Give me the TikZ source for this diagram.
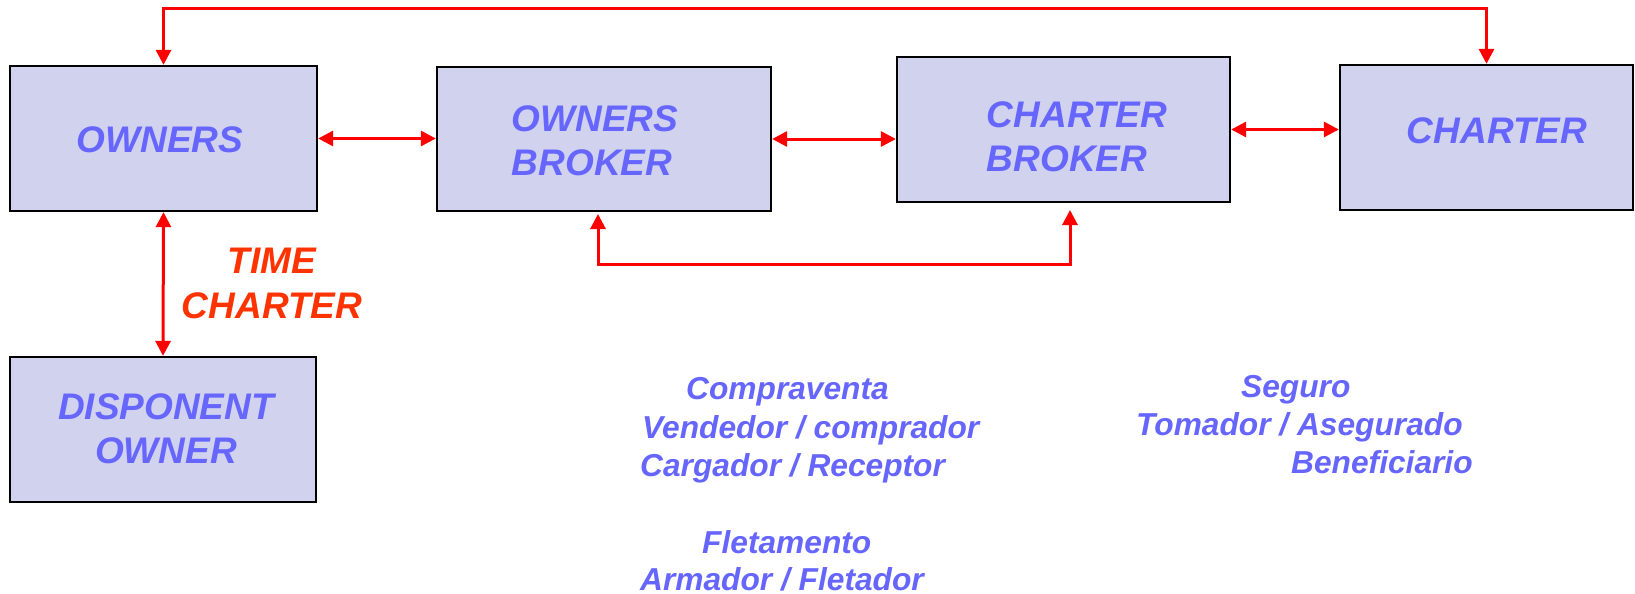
\documentclass[tikz,border=0pt]{standalone}
\usepackage{fontspec}
\setmainfont{Liberation Sans}
\usetikzlibrary{arrows.meta}
\definecolor{boxfill}{RGB}{208,210,238}
\definecolor{txtblue}{RGB}{102,102,255}
\definecolor{tcred}{RGB}{255,51,0}
\tikzset{
  box/.style={draw=black, line width=2.3pt, fill=boxfill, inner sep=0pt},
  boxtxt/.style={text=txtblue, inner sep=0pt, anchor=base, font=\fontsize{37}{44}\selectfont\bfseries\itshape},
  tctxt/.style={text=tcred, inner sep=0pt, anchor=base, font=\fontsize{37}{44}\selectfont\bfseries\itshape},
  lowtxt/.style={text=txtblue, inner sep=0pt, anchor=base west, font=\fontsize{31.7}{37}\selectfont\bfseries\itshape},
  link/.style={draw=red, line width=3pt, {Triangle[length=15pt,width=15pt]}-{Triangle[length=15pt,width=15pt]}}
}
\begin{document}
\begin{tikzpicture}[x=1pt,y=-1pt]
\useasboundingbox (0,0) rectangle (1635,594);
% boxes
\node[box, minimum width=307pt, minimum height=145pt] (own) at (163.5,138.5) {};
\node[box, minimum width=334pt, minimum height=144pt] (ob) at (604,139) {};
\node[box, minimum width=333pt, minimum height=145pt] (cb) at (1063.5,129.5) {};
\node[box, minimum width=293pt, minimum height=145pt] (ch) at (1486.5,137.5) {};
\node[box, minimum width=306pt, minimum height=145pt] (disp) at (163,429.5) {};
% box texts
\node[boxtxt] (ownt) at (160,152) {OWNERS};
\node[boxtxt] (obt1) at (595,131) {OWNERS};
\node[boxtxt] (obt2) at (592,175) {BROKER};
\node[boxtxt] (cbt1) at (1077,127) {CHARTER};
\node[boxtxt] (cbt2) at (1067,171) {BROKER};
\node[boxtxt] (cht) at (1497,143) {CHARTER};
\node[boxtxt] (dt1) at (166,419) {DISPONENT};
\node[boxtxt] (dt2) at (166,463) {OWNER};
\node[tctxt] (tc1) at (272,273) {TIME};
\node[tctxt] (tc2) at (272,318) {CHARTER};
% lower texts
\node[lowtxt] (l1) at (686,399) {Compraventa};
\node[lowtxt] (l2) at (642,438) {Vendedor / comprador};
\node[lowtxt] (l3) at (640,476) {Cargador / Receptor};
\node[lowtxt] (l4) at (702,553) {Fletamento};
\node[lowtxt] (l5) at (640,590) {Armador / Fletador};
\node[lowtxt] (r1) at (1241,397) {Seguro};
\node[lowtxt] (r2) at (1136,435) {Tomador / Asegurado};
\node[lowtxt] (r3) at (1291,473) {Beneficiario};
% connectors
\coordinate (tl) at (163.5,9);
\coordinate (tr) at (1486.5,9);
\draw[link] (own.north) -- (tl) -- (tr) -- (ch.north);
\draw[link] (own.east) -- (own.east -| ob.west);
\draw[link] (ob.east) -- (ob.east -| cb.west);
\draw[link] (cb.east) -- (cb.east -| ch.west);
\draw[link] (own.south) -- (disp.north);
\coordinate (obtip) at (598,214);
\coordinate (cbtip) at (1070,210);
\coordinate (bl) at (598,264);
\coordinate (br) at (1070,264);
\draw[link] (obtip) -- (bl) -- (br) -- (cbtip);
\end{tikzpicture}
\end{document}
